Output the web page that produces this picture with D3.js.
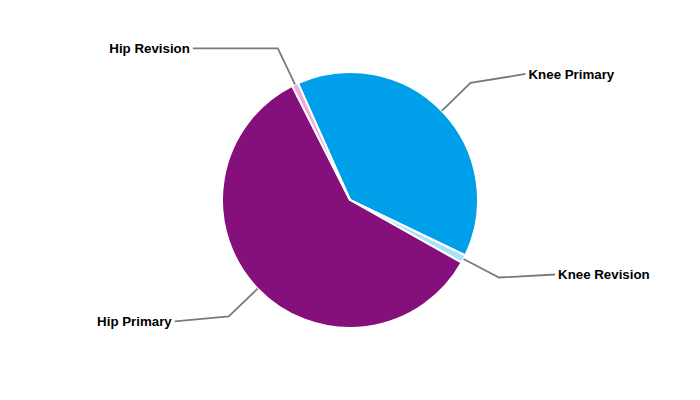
<!DOCTYPE html>
<html><head><meta charset="utf-8">
<script src="https://cdn.jsdelivr.net/npm/d3@7"></script>
<style>body{margin:0;background:#fff}svg{display:block}</style>
</head><body>
<svg id="c" width="700" height="400"></svg>
<script>
const categories = ["Knee Primary", "Knee Revision", "Hip Primary", "Hip Revision"];
const values = [38.8, 1.0, 59.4, 0.8];
const colors = ["#009fe9", "#a6e3f9", "#850f7b", "#f2a9dc"];
// label leader tail offsets (layout, not data)
const tails = [[55, -9], [56, -3], [-54, 5], [-85, 0]];

const W = 700, H = 400, cx = 350, cy = 200, R = 128, RE = 168;
const svg = d3.select("#c");
const g = svg.append("g").attr("transform", `translate(${cx},${cy})`);
const data = categories.map((c, i) => ({ name: c, value: values[i], color: colors[i], tail: tails[i] }));
const startA = -24 * Math.PI / 180;
const pie = d3.pie().sort(null).value(d => d.value).startAngle(startA).endAngle(startA + 2 * Math.PI);
const arcs = pie(data);
const arc = d3.arc().innerRadius(0).outerRadius(R);

g.selectAll("path.s").data(arcs).join("path").attr("class", "s")
  .attr("d", arc).attr("fill", d => d.data.color)
  .attr("stroke", "#fff").attr("stroke-width", 2).attr("stroke-linejoin", "round");

const pt = (a, r) => [r * Math.sin(a), -r * Math.cos(a)];
arcs.forEach(d => {
  const m = (d.startAngle + d.endAngle) / 2;
  const p0 = pt(m, R), p1 = pt(m, RE);
  const p2 = [p1[0] + d.data.tail[0], p1[1] + d.data.tail[1]];
  g.append("polyline").attr("points", [p0, p1, p2].map(p => p.join(",")).join(" "))
    .attr("fill", "none").attr("stroke", "#7a7a7a").attr("stroke-width", 1.8);
  const right = d.data.tail[0] > 0;
  g.append("text").attr("x", p2[0] + (right ? 3 : -3)).attr("y", p2[1])
    .attr("dy", "0.35em").attr("text-anchor", right ? "start" : "end")
    .style("font-family", "Liberation Sans, Arial, sans-serif")
    .style("font-size", "13.3px").style("font-weight", "bold").attr("fill", "#000")
    .text(d.data.name);
});
</script>
</body></html>
